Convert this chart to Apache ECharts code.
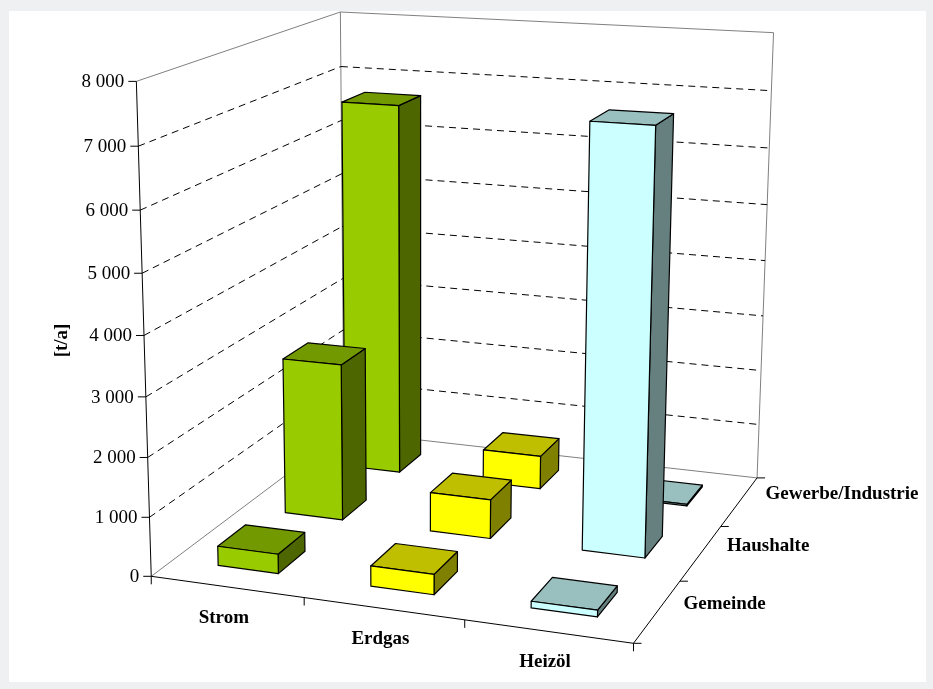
<!DOCTYPE html>
<html>
<head>
<meta charset="utf-8">
<script src="https://cdn.jsdelivr.net/npm/echarts@6/dist/echarts.min.js"></script>
<style>
html, body { margin: 0; padding: 0; background: #eff0f2; }
#chart { width: 933px; height: 689px; }
</style>
</head>
<body>
<div id="chart"></div>
<script>
// Kategorien (x) und Reihen (Tiefe)
var categories = ['Strom', 'Erdgas', 'Heizöl'];
var rows = ['Gemeinde', 'Haushalte', 'Gewerbe/Industrie'];
// Werte je Reihe [t/a]
var gemeinde = [330, 340, 110];
var haushalte = [2750, 680, 7150];
var gewerbe = [6700, 600, 30];
var yTicks = [0, 1000, 2000, 3000, 4000, 5000, 6000, 7000, 8000];
var axisName = '[t/a]';

// Farben je Kategorie: Vorderseite, Deckel, Seite
var faceColors = [
    ['#99cc00', '#739900', '#4d6600'],
    ['#ffff00', '#bfbf00', '#808000'],
    ['#ccffff', '#99bfbf', '#668080']
];

var rowValues = [gemeinde, haushalte, gewerbe];
var yMax = yTicks[yTicks.length - 1];
var nx = categories.length, nz = rows.length;
var hTop = yMax / 1000;

// Lage des Diagrammkastens im Bild (Ecken des Raums)
var frame = [
    [[0, 0, 0], [153, 576]],
    [[0, hTop, 0], [135, 81]],
    [[0, 0, nz], [342, 432]],
    [[0, hTop, nz], [342, 12]],
    [[nx, 0, nz], [758, 477]],
    [[nx, hTop, nz], [773, 33]],
    [[nx, 0, 0], [633, 644]]
];

// Perspektive aus den Ecken bestimmen (DLT)
function fitProjection(pairs) {
    var A = [], b = [];
    pairs.forEach(function (p) {
        var X = p[0][0], Y = p[0][1], Z = p[0][2], u = p[1][0] / 100, v = p[1][1] / 100;
        A.push([X, Y, Z, 1, 0, 0, 0, 0, -u * X, -u * Y, -u * Z]); b.push(u);
        A.push([0, 0, 0, 0, X, Y, Z, 1, -v * X, -v * Y, -v * Z]); b.push(v);
    });
    var n = 11, M = [];
    for (var i = 0; i < n; i++) {
        M[i] = [];
        for (var j = 0; j < n; j++) {
            var s = 0;
            for (var k = 0; k < A.length; k++) s += A[k][i] * A[k][j];
            M[i][j] = s;
        }
        var t = 0;
        for (var k2 = 0; k2 < A.length; k2++) t += A[k2][i] * b[k2];
        M[i][n] = t;
    }
    for (var c = 0; c < n; c++) {
        var piv = c;
        for (var r = c + 1; r < n; r++) if (Math.abs(M[r][c]) > Math.abs(M[piv][c])) piv = r;
        var tmp = M[c]; M[c] = M[piv]; M[piv] = tmp;
        for (var r2 = 0; r2 < n; r2++) {
            if (r2 === c) continue;
            var f = M[r2][c] / M[c][c];
            for (var k3 = c; k3 <= n; k3++) M[r2][k3] -= f * M[c][k3];
        }
    }
    var p = [];
    for (var i2 = 0; i2 < n; i2++) p.push(M[i2][n] / M[i2][i2]);
    return function (X, Y, Z) {
        var w = p[8] * X + p[9] * Y + p[10] * Z + 1;
        return [100 * (p[0] * X + p[1] * Y + p[2] * Z + p[3]) / w,
                100 * (p[4] * X + p[5] * Y + p[6] * Z + p[7]) / w];
    };
}
var project = fitProjection(frame);

var serif = '"Liberation Serif", "Times New Roman", serif';
function fmt(v) { return String(v).replace(/\B(?=(\d{3})+(?!\d))/g, ' '); }

// Balken: hinten zuerst, dann links nach rechts
var barData = [];
for (var j = nz - 1; j >= 0; j--) {
    for (var i = 0; i < nx; i++) {
        barData.push([i, rowValues[j][i], j]);
    }
}

function renderFrame(params, api) {
    var els = [];
    var band = api.size([1, 0])[0];
    var full = api.size([0, yMax])[1];
    // Weltkoordinate aus der Achsenskala
    function W(cat, off, val, z) {
        var c = api.coord([cat, val]);
        var c0 = api.coord([0, 0]);
        var x = (c[0] - c0[0]) / band + 0.5 + off;
        var y = (c0[1] - c[1]) / full * hTop;
        return project(x, y, z);
    }
    function line(a, b, color, dash) {
        els.push({ type: 'line', shape: { x1: a[0], y1: a[1], x2: b[0], y2: b[1] },
            style: { stroke: color, lineWidth: 1, lineDash: dash || null } });
    }
    function text(x, y, s, opt) {
        els.push({ type: 'text', x: x, y: y, rotation: opt.rotation || 0,
            style: { text: s, fill: '#000', fontFamily: serif, fontSize: 19,
                fontWeight: opt.bold ? 'bold' : 'normal', align: opt.align, verticalAlign: 'middle' } });
    }
    var L = -0.5;
    // Wände
    var gray = '#808080';
    line(W(0, L, yMax, 0), W(0, L, yMax, nz), gray);
    line(W(0, L, yMax, nz), W(0, L, 0, nz), gray);
    line(W(0, L, 0, 0), W(0, L, 0, nz), gray);
    line(W(0, L, yMax, nz), W(nx - 1, 0.5, yMax, nz), gray);
    line(W(nx - 1, 0.5, yMax, nz), W(nx - 1, 0.5, 0, nz), gray);
    line(W(0, L, 0, nz), W(nx - 1, 0.5, 0, nz), gray);
    // Hilfslinien
    yTicks.forEach(function (v) {
        if (v === 0 || v === yMax) return;
        line(W(0, L, v, 0), W(0, L, v, nz), '#000', [7, 5]);
        line(W(0, L, v, nz), W(nx - 1, 0.5, v, nz), '#000', [7, 5]);
    });
    // Achsen
    line(W(0, L, 0, 0), W(0, L, yMax, 0), '#000');
    line(W(0, L, 0, 0), W(nx - 1, 0.5, 0, 0), '#000');
    line(W(nx - 1, 0.5, 0, 0), W(nx - 1, 0.5, 0, nz), '#000');
    yTicks.forEach(function (v) {
        var p = W(0, L, v, 0);
        line(p, [p[0] - 8, p[1]], '#000');
        text(p[0] - 12, p[1] + 1, fmt(v), { align: 'right' });
    });
    for (var i = 0; i <= nx; i++) {
        var p = W(0, i - 0.5, 0, 0);
        line(p, [p[0], p[1] + 8], '#000');
    }
    for (var j = 0; j <= nz; j++) {
        var q = W(nx - 1, 0.5, 0, j);
        line(q, [q[0] + 8, q[1]], '#000');
    }
    categories.forEach(function (c, i) {
        var p = W(i, 0, 0, 0);
        text(p[0] - 3, p[1] + 31, c, { align: 'center', bold: true });
    });
    rows.forEach(function (r, j) {
        var p = W(nx - 1, 0.5, 0, j + 0.5);
        text(p[0] + 26, p[1] - 7, r, { align: 'left', bold: true });
    });
    var m = W(0, L, yMax / 2, 0);
    text(m[0] - 82, m[1] + 5, axisName, { align: 'center', bold: true, rotation: Math.PI / 2 });
    return { type: 'group', children: els };
}

function renderBar(params, api) {
    var cat = api.value(0), val = api.value(1), row = api.value(2);
    var band = api.size([1, 0])[0];
    var full = api.size([0, yMax])[1];
    var c0 = api.coord([0, 0]);
    var base = api.coord([cat, 0]);
    var top = api.coord([cat, val]);
    var xc = (base[0] - c0[0]) / band + 0.5;
    var h = (base[1] - top[1]) / full * hTop;
    var x0 = xc - 0.2, x1 = xc + 0.2, z0 = row + 0.3, z1 = row + 0.7;
    var col = faceColors[cat];
    function face(pts, fill) {
        return { type: 'polygon', shape: { points: pts.map(function (p) { return project(p[0], p[1], p[2]); }) },
            style: { fill: fill, stroke: '#000', lineWidth: 1.2, lineJoin: 'round' } };
    }
    return { type: 'group', children: [
        face([[x1, 0, z0], [x1, 0, z1], [x1, h, z1], [x1, h, z0]], col[2]),
        face([[x0, h, z0], [x1, h, z0], [x1, h, z1], [x0, h, z1]], col[1]),
        face([[x0, 0, z0], [x1, 0, z0], [x1, h, z0], [x0, h, z0]], col[0])
    ] };
}

var chart = echarts.init(document.getElementById('chart'));
var option = {
    animation: false,
    backgroundColor: '#eff0f2',
    graphic: [{
        type: 'rect', z: -10, silent: true,
        shape: { x: 9, y: 11, width: 917, height: 671 },
        style: { fill: '#ffffff' }
    }],
    grid: { left: 0, top: 0, width: 300, height: 400, show: false },
    xAxis: { type: 'category', data: categories, show: false },
    yAxis: { type: 'value', min: 0, max: yMax, interval: 1000, show: false },
    series: [
        {
            type: 'custom', name: 'frame', z: 1, clip: false, silent: true,
            renderItem: renderFrame, data: [[0, 0]]
        },
        {
            type: 'custom', name: 'bars', z: 2, clip: false, silent: true,
            renderItem: renderBar, encode: { x: 0, y: 1 }, data: barData
        }
    ]
};
chart.setOption(option);
</script>
</body>
</html>
